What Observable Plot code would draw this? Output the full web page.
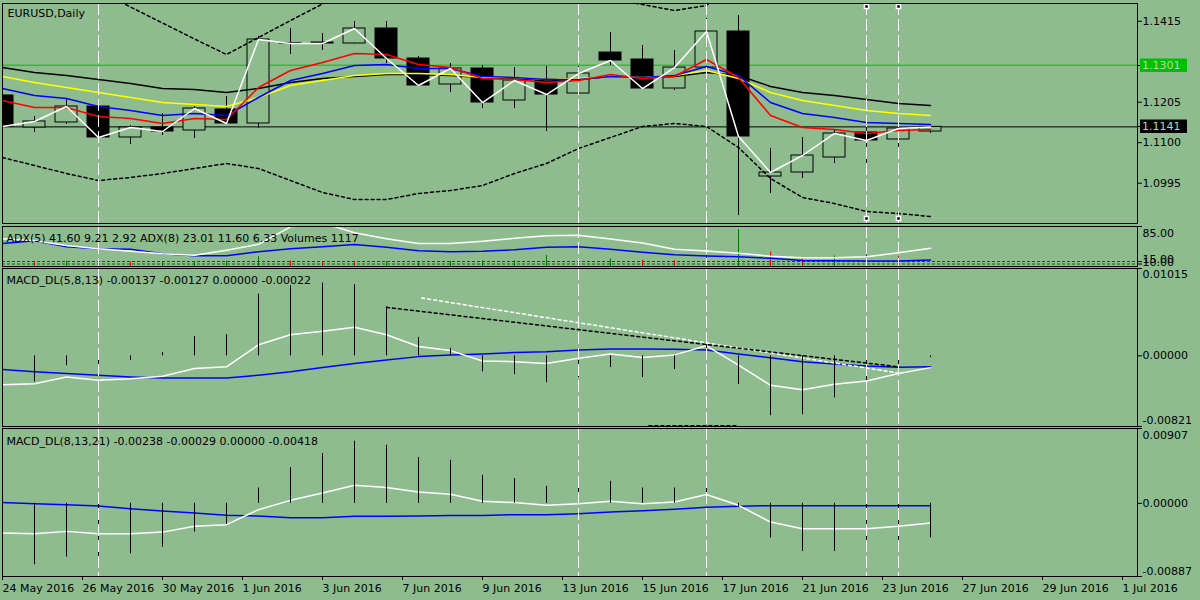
<!DOCTYPE html>
<html><head><meta charset="utf-8">
<script src="https://cdn.jsdelivr.net/npm/d3@7"></script>
<script src="https://cdn.jsdelivr.net/npm/@observablehq/plot@0.6"></script>
<style>
html,body{margin:0;padding:0;background:#8fbc8f;}
#chart{position:relative;width:1200px;height:600px;background:#8fbc8f;overflow:hidden;}
</style></head><body><div id="chart"></div>
<script>
// ---------- DATA ----------
const title = "EURUSD,Daily";
const adxLabel = "ADX(5) 41.60 9.21 2.92 ADX(8) 23.01 11.60 6.33 Volumes 1117";
const macd1Label = "MACD_DL(5,8,13) -0.00137 -0.00127 0.00000 -0.00022";
const macd2Label = "MACD_DL(8,13,21) -0.00238 -0.00029 0.00000 -0.00418";

const opens  = [1.12224,1.11394,1.11524,1.11938,1.11135,1.11394,1.11316,1.11861,1.11498,1.13585,1.13598,1.13572,1.13961,1.13183,1.12509,1.12924,1.12094,1.12639,1.12275,1.13338,1.13157,1.12405,1.12949,1.13883,1.10123,1.10227,1.10616,1.11265,1.11083,1.11290];
const highs  = [1.12353,1.11679,1.12146,1.11990,1.11446,1.11757,1.11938,1.12198,1.13753,1.13961,1.13831,1.14142,1.14142,1.13235,1.13053,1.13001,1.12949,1.12975,1.12975,1.13857,1.13520,1.13390,1.14220,1.14298,1.10850,1.11135,1.11316,1.11524,1.11705,1.11420];
const lows   = [1.11368,1.11265,1.11472,1.11083,1.10953,1.11187,1.11109,1.11498,1.11368,1.13287,1.13390,1.13560,1.13053,1.12470,1.12301,1.11887,1.11887,1.11290,1.12224,1.13001,1.12405,1.12353,1.12949,1.09112,1.09683,1.10072,1.10460,1.10201,1.10720,1.11239];
const closes = [1.11420,1.11550,1.11938,1.11135,1.11394,1.11290,1.11887,1.11498,1.13676,1.13572,1.13572,1.13961,1.13183,1.12483,1.12924,1.12042,1.12613,1.12249,1.12794,1.13131,1.12405,1.12949,1.13883,1.11161,1.10227,1.10668,1.11239,1.11057,1.11368,1.11410];

const maRed    = [1.12094,1.11913,1.11913,1.11679,1.11627,1.11498,1.11627,1.11601,1.12431,1.12872,1.13079,1.13313,1.13287,1.13027,1.12950,1.12664,1.12638,1.12561,1.12613,1.12768,1.12664,1.12716,1.13157,1.12690,1.11705,1.11394,1.11342,1.11238,1.11316,1.11342];
const maBlue   = [1.12405,1.12224,1.12146,1.11938,1.11835,1.11705,1.11757,1.11705,1.12172,1.12613,1.12794,1.13001,1.13027,1.12924,1.12924,1.12716,1.12690,1.12638,1.12638,1.12716,1.12690,1.12742,1.12976,1.12742,1.12042,1.11757,1.11653,1.11524,1.11498,1.11472];
const maYellow = [1.12716,1.12561,1.12431,1.12301,1.12172,1.12042,1.11990,1.11938,1.12172,1.12483,1.12613,1.12742,1.12794,1.12794,1.12768,1.12690,1.12690,1.12638,1.12664,1.12716,1.12690,1.12742,1.12872,1.12664,1.12301,1.12094,1.11964,1.11835,1.11757,1.11705];
const maBlack  = [1.12950,1.12820,1.12742,1.12638,1.12535,1.12405,1.12379,1.12301,1.12405,1.12561,1.12664,1.12716,1.12768,1.12768,1.12742,1.12690,1.12664,1.12613,1.12638,1.12716,1.12690,1.12716,1.12820,1.12742,1.12457,1.12301,1.12224,1.12120,1.12016,1.11964];
const bbUpper  = [1.16190,1.15776,1.15361,1.14946,1.14518,1.14103,1.13689,1.13287,1.13727,1.14168,1.14596,1.14998,1.15205,1.15257,1.15257,1.15153,1.15049,1.14920,1.14816,1.14713,1.14583,1.14427,1.14557,1.15335,1.16242,1.16501,1.16631,1.16709,1.16761,1.16813];
const bbLower  = [1.10616,1.10409,1.10201,1.10020,1.10098,1.10201,1.10331,1.10461,1.10331,1.10020,1.09709,1.09527,1.09527,1.09683,1.09761,1.09890,1.10201,1.10461,1.10850,1.11135,1.11420,1.11498,1.11420,1.10875,1.10072,1.09579,1.09423,1.09216,1.09164,1.09086];

const greenLevel = 1.1301;
const currentPrice = 1.1141;
const priceTicks = [1.1415, 1.1205, 1.1100, 1.0995];

const adx5 = [60.4,56.4,47.0,40.4,35.4,30.4,27.4,37.4,49.4,84.4,92.4,72.4,60.4,51.0,51.0,55.4,61.4,66.4,67.4,59.8,51.8,39.4,35.8,31.4,25.6,22.4,22.4,24.4,32.4,41.6];
const adx8 = [51.0,56.4,44.4,40.4,39.4,30.4,26.4,26.4,34.4,40.4,44.4,49.0,43.4,36.4,34.4,35.4,38.4,43.4,44.4,39.4,33.4,28.4,25.8,24.4,21.4,17.0,16.4,15.8,15.8,17.8];
const volumes = [60000,58000,61000,60000,58000,59000,60000,61000,79000,62000,60000,58000,59000,60000,61000,62000,63000,84000,66000,70000,65000,63000,82000,188000,98000,75000,82000,90000,79000,1117];
const adxLevels = [15, 10];
const adxTop = 85;

const macd1Hist   = [-0.00300,-0.00304,-0.00115,-0.00147,-0.00056,0.00038,0.00226,0.00246,0.00717,0.00814,0.00846,0.00826,0.00571,0.00214,0.00088,-0.00186,-0.00218,-0.00312,-0.00253,-0.00135,-0.00253,-0.00159,0.00128,-0.00335,-0.00696,-0.00684,-0.00488,-0.00343,-0.00166,-0.00022];
const macd1Main   = [-0.00335,-0.00324,-0.00245,-0.00284,-0.00265,-0.00237,-0.00147,-0.00127,0.00128,0.00246,0.00285,0.00332,0.00246,0.00108,0.00061,-0.00060,-0.00068,-0.00088,-0.00029,0.00022,-0.00018,0.00011,0.00117,-0.00107,-0.00342,-0.00394,-0.00331,-0.00292,-0.00206,-0.00137];
const macd1Signal = [-0.00159,-0.00186,-0.00206,-0.00225,-0.00245,-0.00257,-0.00257,-0.00257,-0.00225,-0.00186,-0.00135,-0.00088,-0.00048,-0.00009,0.00011,0.00022,0.00038,0.00049,0.00069,0.00081,0.00081,0.00076,0.00069,0.00022,-0.00021,-0.00068,-0.00095,-0.00119,-0.00133,-0.00127];
const macd1Max = 0.01015, macd1Min = -0.00821;
const trendBlackBars = [12, 28],  trendBlackVals = [0.00563, -0.00127];
const trendWhiteBars = [13.1, 28], trendWhiteVals = [0.00672, -0.00200];
const trendLowBars = [20.2, 23],  trendLowVals = [-0.00812, -0.00812];

const macd2Hist   = [-0.00750,-0.00745,-0.00652,-0.00672,-0.00611,-0.00531,-0.00349,-0.00255,0.00186,0.00434,0.00604,0.00753,0.00704,0.00555,0.00522,0.00340,0.00300,0.00206,0.00219,0.00267,0.00186,0.00186,0.00320,-0.00040,-0.00421,-0.00583,-0.00583,-0.00583,-0.00518,-0.00418];
const macd2Main   = [-0.00361,-0.00368,-0.00340,-0.00368,-0.00368,-0.00349,-0.00279,-0.00259,-0.00077,0.00036,0.00125,0.00219,0.00191,0.00137,0.00109,0.00024,0.00009,-0.00024,-0.00004,0.00024,-0.00004,0.00016,0.00106,-0.00024,-0.00227,-0.00307,-0.00307,-0.00307,-0.00279,-0.00238];
const macd2Signal = [0.00009,-0.00004,-0.00016,-0.00033,-0.00065,-0.00094,-0.00118,-0.00146,-0.00154,-0.00174,-0.00174,-0.00158,-0.00158,-0.00154,-0.00149,-0.00149,-0.00137,-0.00137,-0.00125,-0.00105,-0.00089,-0.00073,-0.00049,-0.00036,-0.00028,-0.00028,-0.00028,-0.00028,-0.00028,-0.00029];
const macd2Max = 0.00907, macd2Min = -0.00887;

const dateLabels = ["24 May 2016","26 May 2016","30 May 2016","1 Jun 2016","3 Jun 2016","7 Jun 2016","9 Jun 2016","13 Jun 2016","15 Jun 2016","17 Jun 2016","21 Jun 2016","23 Jun 2016","27 Jun 2016","29 Jun 2016","1 Jul 2016"];
const vLineBars = [3, 18, 22, 27, 28];
const selectedBars = [27, 28];

// ---------- LAYOUT ----------
const BG = "#8fbc8f";
const W = 1200, ML = 2, MR = 63, PX_PER_BAR = 32, LABEL_STEP = 2.5;
const BODY = 11 / PX_PER_BAR;
const xScale = {type: "linear", domain: [0, (W - ML - MR) / PX_PER_BAR]};
const STYLE = {background: "transparent", fontFamily: "'DejaVu Sans', sans-serif", fontSize: "11px", color: "black", overflow: "visible"};
const chart = document.getElementById("chart");

const bars = opens.map((o, i) => ({i, open: o, high: highs[i], low: lows[i], close: closes[i]}));
const ser = arr => arr.map((v, i) => ({i, v}));
const pts = (xs, vs) => xs.map((x, k) => ({i: x, v: vs[k]}));
const f4 = d => d.toFixed(4), f5 = d => d.toFixed(5), f2 = d => d.toFixed(2);

function addPane(top, height, mt, mb, yOpt, marks, showX) {
  const el = Plot.plot({
    width: W, height, marginLeft: ML, marginRight: MR, marginTop: mt, marginBottom: mb,
    x: showX ? xScale : {...xScale, axis: null},
    y: yOpt, style: STYLE, marks
  });
  el.style.position = "absolute"; el.style.left = "0px"; el.style.top = top + "px";
  chart.appendChild(el);
  return el;
}
const midAxis = (ticks, fmt, dy = 0) => [
  Plot.axisY({anchor: "right", ticks, tickSize: 4, tickFormat: () => "", label: null}),
  Plot.axisY({anchor: "right", ticks, tickSize: 0, tickPadding: 5, tickFormat: fmt, dy, label: null})
];
const vLines = () => Plot.ruleX(vLineBars, {stroke: "white", strokeDasharray: "12,4"});
const legend = (txt, dx, dy) => Plot.text([txt], {text: d => d, frameAnchor: "top-left", textAnchor: "start", lineAnchor: "bottom", dx, dy, fill: "black"});

// ---------- MAIN PANE ----------
const mainEl = addPane(0, 224, 3, 1, {domain: [1.08905, 1.14609]}, [
  Plot.ruleY([greenLevel], {stroke: "#00c000"}),
  Plot.ruleY([currentPrice], {stroke: "black"}),
  Plot.ruleX(bars, {x: "i", y1: "low", y2: "high", stroke: "black", clip: true}),
  Plot.rect(bars, {x1: d => d.i - BODY, x2: d => d.i + BODY, y1: "open", y2: "close",
    fill: d => d.close >= d.open ? BG : "black", stroke: "black", clip: true}),
  Plot.line(ser(bbUpper), {x: "i", y: "v", stroke: "black", strokeDasharray: "3,3", clip: true}),
  Plot.line(ser(bbLower), {x: "i", y: "v", stroke: "black", strokeDasharray: "3,3", clip: true}),
  Plot.line(ser(maBlack), {x: "i", y: "v", stroke: "black", clip: true}),
  Plot.line(ser(maYellow), {x: "i", y: "v", stroke: "#ffff00", clip: true}),
  Plot.line(ser(maBlue), {x: "i", y: "v", stroke: "#0000ff", clip: true}),
  Plot.line(ser(maRed), {x: "i", y: "v", stroke: "#ff0000", clip: true}),
  Plot.line(bars, {x: "i", y: "close", stroke: "white", clip: true}),
  vLines(),
  Plot.dot(selectedBars, {x: d => d, frameAnchor: "top", dy: 3, symbol: "square", r: 2.3, fill: "black", stroke: "white"}),
  Plot.dot(selectedBars, {x: d => d, frameAnchor: "bottom", dy: -5, symbol: "square", r: 2.3, fill: "black", stroke: "white"}),
  legend(title, 5, 13),
  ...midAxis(priceTicks, f4),
  Plot.frame({stroke: "black"})
]);
{
  const ys = mainEl.scale("y");
  const sel = d3.select(mainEl);
  [[greenLevel, "#00c000"], [currentPrice, "black"]].forEach(([val, bg]) => {
    const y = ys.apply(val);
    sel.append("line").attr("x1", W - MR).attr("x2", W - MR + 4).attr("y1", Math.round(y) + 0.5).attr("y2", Math.round(y) + 0.5).attr("stroke", "black");
    sel.append("rect").attr("x", W - MR + 3).attr("y", Math.round(y) - 6.5).attr("width", 47).attr("height", 13.5).attr("fill", bg);
    sel.append("text").attr("x", W - MR + 5).attr("y", y).attr("dy", "0.36em").attr("text-anchor", "start")
      .attr("fill", "#b4d8b4").attr("font-size", 11).attr("font-family", "'DejaVu Sans', sans-serif").text(f4(val));
  });
}

// ---------- ADX / VOLUME PANE ----------
const volData = volumes.map((v, i) => ({i, v, up: i === 0 || v > volumes[i - 1]}));
addPane(224, 43, 2, 1, {domain: [40000, 200000], axis: null}, [
  Plot.ruleX(volData, {x: "i", y1: 0, y2: "v", stroke: d => d.up ? "#007800" : "#ff0000", clip: true})
]);
addPane(224, 43, 2, 1, {domain: [5, adxTop]}, [
  Plot.ruleY(adxLevels, {stroke: "#006400", strokeDasharray: "3,2"}),
  Plot.line(ser(adx8), {x: "i", y: "v", stroke: "#0000ff", clip: true}),
  Plot.line(ser(adx5), {x: "i", y: "v", stroke: "white", clip: true}),
  vLines(),
  legend(adxLabel, 4, 15.5),
  ...midAxis(adxLevels, f2, -2),
  ...midAxis([adxTop], f2, 7),
  Plot.frame({stroke: "black"})
]);

// ---------- MACD 1 ----------
addPane(267, 159, 1, 0, {domain: [macd1Min, macd1Max]}, [
  Plot.line(ser(macd1Signal), {x: "i", y: "v", stroke: "#0000ff", clip: true}),
  Plot.line(ser(macd1Main), {x: "i", y: "v", stroke: "white", clip: true}),
  Plot.line(pts(trendWhiteBars, trendWhiteVals), {x: "i", y: "v", stroke: "white", strokeDasharray: "3,3"}),
  Plot.line(pts(trendBlackBars, trendBlackVals), {x: "i", y: "v", stroke: "black", strokeDasharray: "3,3"}),
  Plot.line(pts(trendLowBars, trendLowVals), {x: "i", y: "v", stroke: "black", strokeDasharray: "3,3"}),
  Plot.ruleX(ser(macd1Hist), {x: "i", y1: 0, y2: "v", stroke: "black", clip: true}),
  vLines(),
  legend(macd1Label, 4, 15),
  ...midAxis([0], f5),
  ...midAxis([macd1Max], f5, 6),
  ...midAxis([macd1Min], f5, -6),
  Plot.frame({stroke: "black"})
]);

// ---------- MACD 2 + time axis ----------
addPane(426, 174, 2, 24, {domain: [macd2Min, macd2Max]}, [
  Plot.line(ser(macd2Signal), {x: "i", y: "v", stroke: "#0000ff", clip: true}),
  Plot.line(ser(macd2Main), {x: "i", y: "v", stroke: "white", clip: true}),
  Plot.ruleX(ser(macd2Hist), {x: "i", y1: 0, y2: "v", stroke: "black", clip: true}),
  vLines(),
  legend(macd2Label, 4, 16),
  ...midAxis([0], f5),
  ...midAxis([macd2Max], f5, 7),
  ...midAxis([macd2Min], f5, -5),
  Plot.axisX({anchor: "bottom", ticks: dateLabels.map((_, k) => k * LABEL_STEP), tickSize: 4, tickPadding: 4,
    tickFormat: d => dateLabels[Math.round(d / LABEL_STEP)], textAnchor: "start", label: null}),
  Plot.frame({stroke: "black"})
], true);
</script></body></html>
